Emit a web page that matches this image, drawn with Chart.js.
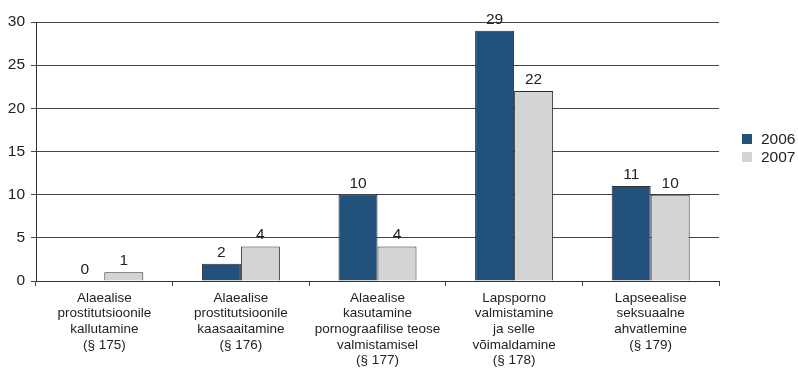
<!DOCTYPE html>
<html>
<head>
<meta charset="utf-8">
<script src="https://cdn.jsdelivr.net/npm/chart.js@4/dist/chart.umd.min.js"></script>
<style>
  html, body { margin: 0; padding: 0; background: #fff; }
  #wrap { width: 798px; height: 371px; position: relative; }
</style>
</head>
<body>
<div id="wrap"><canvas id="c" width="798" height="371"></canvas></div>
<script>
const categories = [
  ["Alaealise", "prostitutsioonile", "kallutamine", "(§ 175)"],
  ["Alaealise", "prostitutsioonile", "kaasaaitamine", "(§ 176)"],
  ["Alaealise", "kasutamine", "pornograafilise teose", "valmistamisel", "(§ 177)"],
  ["Lapsporno", "valmistamine", "ja selle", "võimaldamine", "(§ 178)"],
  ["Lapseealise", "seksuaalne", "ahvatlemine", "(§ 179)"]
];
const seriesNames = ["2006", "2007"];
const values2006 = [0, 2, 10, 29, 11];
const values2007 = [1, 4, 4, 22, 10];
const yTicks = [0, 5, 10, 15, 20, 25, 30];

const COLORS = ["#22527b", "#d3d4d6"];
const FONT = "'Liberation Sans', Arial, Helvetica, sans-serif";
const TEXT = "#222222";

const valueLabels = {
  id: 'valueLabels',
  afterDatasetsDraw(chart) {
    const ctx = chart.ctx;
    ctx.save();
    ctx.font = "15.5px " + FONT;
    ctx.fillStyle = TEXT;
    ctx.textAlign = "center";
    ctx.textBaseline = "alphabetic";
    chart.data.datasets.forEach((ds, i) => {
      const meta = chart.getDatasetMeta(i);
      meta.data.forEach((el, j) => {
        ctx.fillText(String(ds.data[j]), el.x, el.y - 7);
      });
    });
    ctx.restore();
  }
};

const sideLegend = {
  id: 'sideLegend',
  afterDraw(chart) {
    const ctx = chart.ctx;
    ctx.save();
    ctx.font = "15.5px " + FONT;
    ctx.textBaseline = "middle";
    ctx.textAlign = "left";
    chart.data.datasets.forEach((ds, i) => {
      const y = 134 + i * 18;
      ctx.fillStyle = ds.backgroundColor;
      ctx.fillRect(742, y, 10, 10);
      ctx.fillStyle = TEXT;
      ctx.fillText(ds.label, 761, y + 5.5);
    });
    ctx.restore();
  }
};

new Chart(document.getElementById('c'), {
  type: 'bar',
  data: {
    labels: categories,
    datasets: [
      { label: seriesNames[0], data: values2006, backgroundColor: COLORS[0], borderColor: "#2e2e2e",
        borderWidth: c => (c.raw === 0 ? 0 : 1) },
      { label: seriesNames[1], data: values2007, backgroundColor: COLORS[1], borderColor: "#2e2e2e",
        borderWidth: c => (c.raw === 0 ? 0 : 1) }
    ]
  },
  options: {
    responsive: false,
    animation: false,
    devicePixelRatio: 1,
    layout: { padding: { left: 0, right: 79, top: 22, bottom: 0 } },
    plugins: { legend: { display: false }, tooltip: { enabled: false } },
    datasets: { bar: { categoryPercentage: 0.571, barPercentage: 1.0 } },
    scales: {
      x: {
        grid: { offset: true, drawOnChartArea: false, color: "#444", tickLength: 5, lineWidth: 1 },
        border: { color: "#333", width: 1 },
        ticks: { color: TEXT, font: { family: FONT, size: 13.5, lineHeight: 1.16 }, padding: 4, maxRotation: 0, autoSkip: false },
        afterFit(s) { s.height = 90; }
      },
      y: {
        min: 0, max: 30,
        afterBuildTicks(s) { s.ticks = yTicks.map(v => ({ value: v })); },
        grid: { color: "#444", tickLength: 5, lineWidth: 1 },
        border: { color: "#333", width: 1 },
        ticks: { color: TEXT, font: { family: FONT, size: 15.5 }, padding: 6 },
        afterFit(s) { s.width = 36; }
      }
    }
  },
  plugins: [valueLabels, sideLegend]
});
</script>
</body>
</html>
